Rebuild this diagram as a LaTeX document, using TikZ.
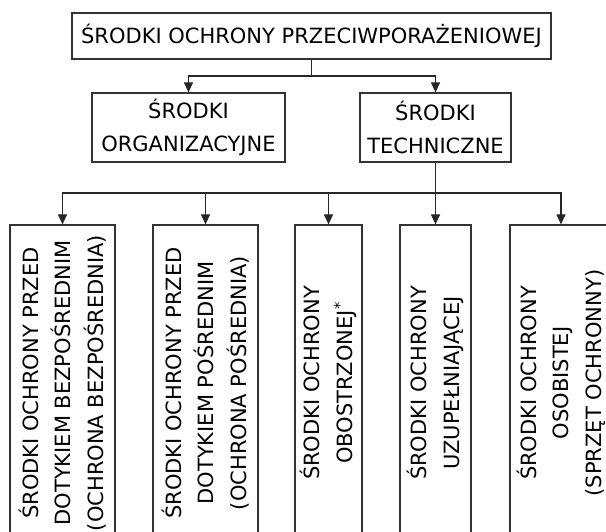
\documentclass[tikz,border=0pt]{standalone}
\usepackage{fontspec}
\setsansfont{DejaVu Sans}
\usetikzlibrary{arrows.meta,calc}

\begin{document}
\begin{tikzpicture}[
  x=1pt, y=1pt,
  font=\sffamily\fontsize{21}{32.5}\selectfont,
  blok/.style={draw=black!80, line width=1.2pt, align=center, inner sep=0pt},
  pion/.style={blok, rotate=90, minimum width=316pt},
  linia/.style={draw=black!85, line width=1.2pt},
  strzalka/.style={linia, -{Triangle[length=10pt,width=9pt]}},
]
\useasboundingbox (0,0) rectangle (606,531);
\clip (0,0) rectangle (606,531);
% --- poziom 1 ---------------------------------------------------------------
\node[blok, minimum width=479pt, minimum height=46pt] (glowny) at (311.5,495)
  {ŚRODKI OCHRONY PRZECIWPORAŻENIOWEJ};
% --- poziom 2 ---------------------------------------------------------------
\node[blok, minimum width=193pt, minimum height=69pt] (organiz) at (188.5,403.5)
  {ŚRODKI\\ORGANIZACYJNE};
\node[blok, minimum width=151pt, minimum height=69pt] (techn) at (435.5,403.5)
  {ŚRODKI\\TECHNICZNE};
\coordinate (szyna1) at (0,455);
\draw[linia] (glowny.south) -- (glowny.south |- szyna1);
\draw[strzalka] (glowny.south |- szyna1) -| (organiz.north);
\draw[strzalka] (glowny.south |- szyna1) -| (techn.north);
% --- poziom 3: srodki techniczne ------------------------------------------
\foreach \nazwa/\x/\szer/\tekst in {
  bezposr/62.5/105/{ŚRODKI OCHRONY PRZED\\DOTYKIEM BEZPOŚREDNIM\\(OCHRONA BEZPOŚREDNIA)},
  posr/205.5/105/{ŚRODKI OCHRONY PRZED\\DOTYKIEM POŚREDNIM\\(OCHRONA POŚREDNIA)},
  obostrz/328.5/67/{ŚRODKI OCHRONY\\OBOSTRZONEJ\textsuperscript{*}},
  uzupel/435.5/71/{ŚRODKI OCHRONY\\UZUPEŁNIAJĄCEJ},
  osobista/561/102/{ŚRODKI OCHRONY\\OSOBISTEJ\\(SPRZĘT OCHRONNY)}} {
  \node[pion, minimum height=\szer pt] (\nazwa) at (\x,148) {\tekst};
}
\coordinate (szyna2) at (0,338);
\draw[linia] (techn.south) -- (techn.south |- szyna2);
\foreach \nazwa in {bezposr,posr,obostrz,uzupel,osobista}
  \draw[strzalka] (techn.south |- szyna2) -| (\nazwa.east);
\end{tikzpicture}
\end{document}
